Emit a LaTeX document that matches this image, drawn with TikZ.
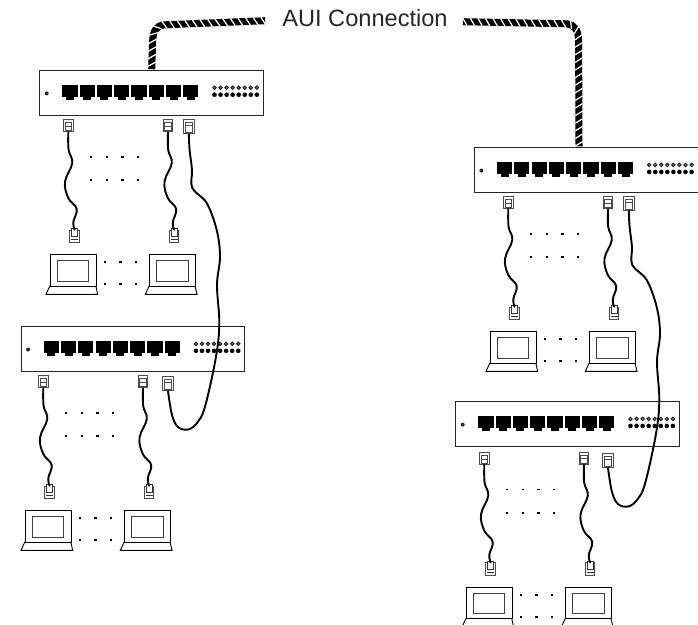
\documentclass[tikz,border=0pt]{standalone}
\usepackage{fontspec}
\setmainfont{Liberation Sans}
\usetikzlibrary{decorations.markings}
\tikzset{
  hubbox/.style={draw=black!85,line width=.9pt,fill=white,minimum width=223.5pt,minimum height=45.5pt,inner sep=0pt,anchor=north west},
  plugbox/.style={draw=black!70,line width=.9pt,fill=white,inner sep=0pt,minimum width=#1},
  plugbox/.default=9.5pt,
  wire/.style={line width=1.9pt,black,line cap=round},
  lapbox/.style={draw=black,line width=.9pt,fill=white,inner sep=0pt,anchor=north west,minimum width=45.7pt,minimum height=31.7pt},
  screenbox/.style={draw=black!75,line width=.9pt,inner sep=0pt,anchor=north west,minimum width=31.6pt,minimum height=20.7pt},
  auicable/.style={line width=7pt,black,postaction={decorate},decoration={markings,
     mark=between positions 2pt and 1 step 7.6pt with {\draw[white,line width=1.25pt] (-2.2,-3.6)--(2.2,3.6);}}}
}
% hub: name, x, y
\newcommand\hubunit[3]{%
  \node[hubbox] (#1) at (#2,#3) {};
  \begin{scope}[shift={(#2,#3)}]
    \fill[black!85] (7.4,23.9) circle[radius=2pt];
    \foreach \k in {0,...,7}{
      \fill[black] ({23+17.27*\k},15.5) rectangle ++(15.2,11.8);
      \fill[black] ({23+17.27*\k+3.6},27) rectangle ++(8,3);
      \filldraw[draw=black!90,fill=black!55,line width=.8pt] ({175.2+6.05*\k},18.2) circle[radius=1.8pt];
      \fill[black] ({175.2+6.05*\k},25.2) circle[radius=2.3pt];
    }
  \end{scope}}
% plug with the wire leaving downwards
\newcommand\plugdown[4][9.5pt]{%
  \node[plugbox=#1,minimum height=#4] (#2) at #3 {};
  \draw[black!70,line width=.8pt] ([xshift=-3.2pt,yshift=-3.5pt]#2.north) rectangle ([xshift=3.2pt,yshift=1.5pt]#2.south);
  \draw[black!70,line width=.8pt] ([xshift=-3.2pt,yshift=-7pt]#2.north) -- ([xshift=3.2pt,yshift=-7pt]#2.north);}
% plug with the wire entering from above
\newcommand\plugup[2]{%
  \node[plugbox,minimum height=12.4pt] (#1) at #2 {};
  \draw[black!80,line width=.8pt,fill=white] ([xshift=-3pt,yshift=1pt]#1.north) rectangle ([xshift=3pt,yshift=-7pt]#1.north);
  \draw[black!80,line width=.8pt] ([xshift=-3.4pt,yshift=3.6pt]#1.south) -- ([xshift=3.4pt,yshift=3.6pt]#1.south);}
% a group of two cables and two workstations
\newcommand\lanunit[3]{%
  \begin{scope}[shift={(#2,#3)}]
    \plugdown{#1a}{(68.3,125.8)}{12pt}
    \plugdown{#1b}{(168,125.6)}{12.4pt}
    \plugup{#1p}{(74.6,236.4)}
    \plugup{#1q}{(174.1,236.4)}
    \draw[wire] plot[smooth,tension=.65] coordinates {(#1a.south) (68.6,150) (72.3,163) (65,181.7) (68.3,198) (76.7,209) (73.3,222) (#1p.north)};
    \draw[wire] plot[smooth,tension=.65] coordinates {(#1b.south) (168.2,150) (171.8,163) (164.5,181.7) (167.8,198) (176.2,209) (172.8,222) (#1q.north)};
    \foreach \xx in {91,106.7,122.3,138}{
      \fill (\xx-1,155.9) rectangle ++(2.4,1.8);
      \fill (\xx-1,179.2) rectangle ++(2.4,1.8);
    }
    \node[lapbox] (#1l) at (50,254) {};
    \node[screenbox] (#1s) at (56.7,260) {};
    \draw[line width=.9pt] (50,285.7) -- (46,294.3) -- (97.7,294.3) -- (95.7,285.7);
    \node[lapbox] (#1m) at (149.3,254) {};
    \node[screenbox] (#1t) at (156,260) {};
    \draw[line width=.9pt] (149.3,285.7) -- (145.3,294.3) -- (197,294.3) -- (195,285.7);
    \foreach \xx in {105,120.3,136}{
      \fill (\xx-1,261.2) rectangle ++(2.4,1.8);
      \fill (\xx-1,283.2) rectangle ++(2.4,1.8);
    }
  \end{scope}}
% uplink cable from one group into the hub below
\newcommand\linkcable[3]{%
  \begin{scope}[shift={(#2,#3)}]
    \plugdown[10.6pt]{#1c}{(188.8,126.6)}{14.6pt}
    \plugdown[10.6pt]{#1x}{(168,383.3)}{14.6pt}
    \draw[wire] plot[smooth,tension=.6] coordinates {(#1c.south) (189.6,150) (192,170) (192.3,188) (206.7,203) (216.7,230) (220,256.7) (217,285) (219.3,323) (216,356.7) (205,406.7) (197,423) (188,429.5) (178,427) (172,415) (#1x.south)};
  \end{scope}}
\begin{document}
\begin{tikzpicture}[x=1pt,y=-1pt]
  \fill[white] (0,0) rectangle (698,624);
  \clip (0,0) rectangle (698,624);
  \hubunit{ha}{39.3}{69.5}
  \hubunit{hb}{20.7}{325.6}
  \hubunit{hc}{474}{146.7}
  \hubunit{hd}{455.3}{400.7}
  \lanunit{ga}{0}{0}
  \lanunit{gb}{-25}{256}
  \lanunit{gc}{440}{77}
  \lanunit{gd}{416}{332.7}
  \linkcable{la}{0}{0}
  \linkcable{lb}{440}{77}
  \node[font=\fontsize{23.6}{25}\selectfont,inner sep=0pt,text=black!85] (aui) at (365,18.5) {AUI Connection};
  \coordinate (auileft) at ([xshift=-17pt,yshift=-2.2pt]aui.west);
  \coordinate (auiright) at ([xshift=15pt,yshift=-3.2pt]aui.east);
  \coordinate (tapa) at (151.7,69.2);
  \coordinate (tapc) at (579,146.4);
  \draw[auicable] (auileft) -- (165,24.8) .. controls (156,25.2) and (153,31) .. (152.6,42) -- (tapa);
  \draw[auicable] (auiright) -- (567,23.8) .. controls (574,24.6) and (578.4,30) .. (578.6,40) -- (tapc);
\end{tikzpicture}
\end{document}
